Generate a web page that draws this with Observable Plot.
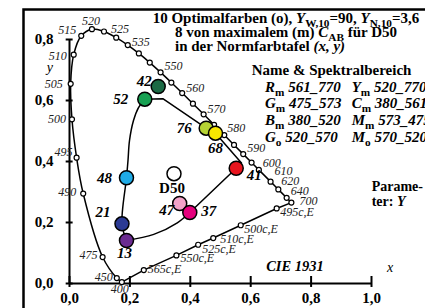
<!DOCTYPE html>
<html><head><meta charset="utf-8">
<script src="https://cdn.jsdelivr.net/npm/d3@7"></script>
<script src="https://cdn.jsdelivr.net/npm/@observablehq/plot@0.6"></script>
<style>
html,body{margin:0;padding:0;background:#fff;}
#chart{width:425px;height:308px;overflow:hidden;}
svg text{white-space:pre;}
</style></head><body><div id="chart"></div>
<script>
// ---- data ----
const xTicks = [0, 0.2, 0.4, 0.6, 0.8, 1.0];
const yTicks = [0, 0.2, 0.4, 0.6, 0.8];

// spectral locus markers (nm, x, y)
const locusNm = [400,450,475,490,495,500,505,510,515,520,525,530,535,540,545,550,555,560,565,570,575,580,585,590,595,600,610,620,640,700];
const locusX = [0.1733,0.1566,0.1096,0.0454,0.0235,0.0082,0.0039,0.0139,0.0389,0.0743,0.1142,0.1547,0.1929,0.2296,0.2658,0.3016,0.3373,0.3731,0.4087,0.4441,0.4788,0.5125,0.5448,0.5752,0.6029,0.6270,0.6658,0.6915,0.7190,0.7347];
const locusY = [0.0048,0.0177,0.0868,0.2950,0.4127,0.5384,0.6548,0.7502,0.8120,0.8338,0.8262,0.8059,0.7816,0.7543,0.7243,0.6923,0.6589,0.6245,0.5896,0.5547,0.5202,0.4866,0.4544,0.4242,0.3965,0.3725,0.3340,0.3083,0.2809,0.2653];
const locusLabeled = [400,450,475,490,495,500,505,510,515,520,525,535,550,560,570,580,590,600,610,620,640,700];

// purple line (complementary wavelengths)
const purpleNames = ["565c,E","550c,E","525c,E","510c,E","500c,E","495c,E"];
const purpleX = [0.246,0.354,0.426,0.476,0.567,0.686];
const purpleY = [0.044,0.092,0.127,0.149,0.191,0.246];

// optimal colours
const optNames = ["42","52","76","68","41","48","21","13","47","37"];
const optX = [0.2937,0.2493,0.4526,0.4834,0.552,0.1887,0.1738,0.1887,0.3649,0.3983];
const optY = [0.6459,0.6043,0.5092,0.4928,0.378,0.3466,0.1957,0.141,0.2623,0.2328];
const optColors = ["#1b6a45","#17a052","#b5d334","#f7e600","#e8151e","#1fabe6","#2b3a94","#6b2c91","#f2a2c8","#e5007d"];

// white point
const whiteName = "D50";
const whiteX = 0.346, whiteY = 0.360;

// boundary of maximal chroma
const hullA = [[0.1887,0.141],[0.1738,0.1957],[0.1887,0.3466],[0.1937,0.4033],[0.1987,0.4689],[0.2119,0.5344],[0.2285,0.577],[0.2493,0.6043]];
const hullB = [[0.2493,0.6043],[0.309,0.606],[0.4526,0.5092],[0.4834,0.4928],[0.5695,0.395],[0.552,0.378],[0.3983,0.2328]];
const hullC = [[0.3983,0.2328],[0.357,0.199],[0.279,0.161],[0.1887,0.141]];

// ---- layout (label offsets in px) ----
const locusOff = {400:[-2,7],450:[-13,-1],475:[-14,-2],490:[-16,-1],495:[-13,-5],500:[-15,0],505:[-17,0],510:[-16,1],515:[-14,-6],520:[-1,-8],525:[16,-2],535:[13,-3],550:[13,-6],560:[13,-5],570:[13,-5],580:[12,-7],590:[13,-6],600:[13,-7],610:[13,-10],620:[12,-8],640:[13,-7],700:[17,-1]};
const purpleOff = [[4,-1],[4,3],[4,4],[7,1],[3.5,4],[3.5,4]];
const optOff = [[-14,-5],[-24,0],[-22,0],[0,15],[18,7],[-22,0],[-19,-12],[-2,13],[-13,7],[19,-1]];

const locus = locusNm.map((nm,i)=>({nm, x:locusX[i], y:locusY[i]}));
const byNm = Object.fromEntries(locus.map(d=>[d.nm,d]));
const locusLab = locusLabeled.map(nm=>({...byNm[nm], dx:locusOff[nm][0], dy:locusOff[nm][1]}));
const purple = purpleNames.map((n,i)=>({n, x:purpleX[i], y:purpleY[i], dx:purpleOff[i][0], dy:purpleOff[i][1]}));
const purpleLine = [byNm[400], ...purple, byNm[700]];
const opt = optNames.map((n,i)=>({n, x:optX[i], y:optY[i], c:optColors[i], dx:optOff[i][0], dy:optOff[i][1]}));
const fmt = d => d.toFixed(1).replace(".", ",");
const serif = '"Liberation Serif","Times New Roman",serif';

const marks = [
  Plot.frame({stroke:"black", strokeWidth:2.5, insetLeft:-46, insetTop:-30, insetRight:-80, insetBottom:-60}),
  Plot.ruleY([0], {x1:0, x2:1, strokeWidth:2}),
  Plot.ruleX([0], {y1:0, y2:0.8, strokeWidth:2}),
  Plot.ruleX(xTicks, {x:d=>d, y1:-0.013, y2:0.023, strokeWidth:2}),
  Plot.ruleY(yTicks, {y:d=>d, x1:-0.011, x2:0.012, strokeWidth:2}),
  Plot.text(xTicks, {x:d=>d, y:0, dy:15, text:fmt, fontSize:15, fontWeight:"bold"}),
  Plot.text(yTicks, {x:0, y:d=>d, dx:-16, textAnchor:"end", text:fmt, fontSize:15, fontWeight:"bold"}),
  Plot.line(locus, {x:"x", y:"y", curve:"catmull-rom", strokeWidth:1.5}),
  Plot.line(purpleLine, {x:"x", y:"y", strokeWidth:1.5}),
  Plot.line(hullA, {x:d=>d[0], y:d=>d[1], curve:"catmull-rom", strokeWidth:1.5}),
  Plot.line(hullB, {x:d=>d[0], y:d=>d[1], strokeWidth:1.5}),
  Plot.line(hullC, {x:d=>d[0], y:d=>d[1], curve:"catmull-rom", strokeWidth:1.5}),
  Plot.dot(locus, {x:"x", y:"y", r:2.5, fill:"white", stroke:"black", strokeWidth:1.2}),
  Plot.dot(purple, {x:"x", y:"y", r:2.5, fill:"white", stroke:"black", strokeWidth:1.2}),
  Plot.dot(opt, {x:"x", y:"y", r:7, fill:"c", stroke:"black", strokeWidth:1.5}),
  Plot.dot([{x:whiteX, y:whiteY}], {x:"x", y:"y", r:7, fill:"white", stroke:"black", strokeWidth:1.5}),
  ...locusLab.map(d=>Plot.text([d], {x:"x", y:"y", text:d=>String(d.nm), dx:d.dx, dy:d.dy, fontSize:12, fontStyle:"italic", fill:"#222"})),
  ...purple.map(d=>Plot.text([d], {x:"x", y:"y", text:"n", dx:d.dx, dy:d.dy, textAnchor:"start", fontSize:12, fontStyle:"italic", fill:"#222"})),
  ...opt.map(d=>Plot.text([d], {x:"x", y:"y", text:"n", dx:d.dx, dy:d.dy, fontSize:15, fontStyle:"italic", fontWeight:"bold"})),
  Plot.text([{x:whiteX, y:whiteY}], {x:"x", y:"y", text:()=>whiteName, dx:-2, dy:14, fontSize:15, fontWeight:"bold"}),
  Plot.text([{x:0.7467, y:0.0567}], {x:"x", y:"y", text:()=>"CIE 1931", fontSize:14.5, fontStyle:"italic", fontWeight:"bold"}),
  Plot.text([{x:1.062, y:0.052}], {x:"x", y:"y", text:()=>"x", fontSize:14, fontStyle:"italic"}),
  Plot.text([{x:-0.065, y:0.709}], {x:"x", y:"y", text:()=>"y", fontSize:14, fontStyle:"italic"})
];

const plot = Plot.plot({
  width:425, height:308,
  marginLeft:69, marginRight:54, marginTop:39, marginBottom:25,
  x:{domain:[0,1], axis:null},
  y:{domain:[0,0.8], axis:null},
  color:{type:"identity"},
  style:{fontFamily:serif, background:"white", overflow:"visible"},
  marks
});
document.getElementById("chart").append(plot);

// rich text (subscripts) annotations
const svg = d3.select(plot);
const g = svg.append("g").attr("font-family", serif).attr("fill","black");
function rich(x, y, parts, size, weight="bold", anchor="start") {
  const t = g.append("text").attr("x", x).attr("y", y).attr("font-size", size)
    .attr("font-weight", weight).attr("text-anchor", anchor);
  let shift = 0;
  for (const p of parts) {
    const s = t.append("tspan").text(p.t);
    const target = p.sub ? Math.round(size*0.28) : 0;
    if (target !== shift) { s.attr("dy", target - shift); shift = target; }
    if (p.sub) s.attr("font-size", size*0.75);
    if (p.i) s.attr("font-style","italic");
  }
}
rich(152.7, 23, [{t:"10 Optimalfarben (o), "},{t:"Y",i:1},{t:"W,10",sub:1},{t:"=90, "},{t:"Y",i:1},{t:"N,10",sub:1},{t:"=3,6"}], 15);
rich(175, 37, [{t:"8 von maximalem (m) "},{t:"C",i:1},{t:"AB",sub:1},{t:" für D50"}], 15);
rich(175, 51, [{t:"in der Normfarbtafel "},{t:"(x, y)",i:1}], 15);
rich(251.7, 75, [{t:"Name & Spektralbereich"}], 15);
const legRows = [["R","561_770","Y","520_770","m"],["G","475_573","C","380_561","m"],["B","380_520","M","573_475","m"],["G","520_570","M","570_520","o"]];
const legY = [91.7, 108.3, 125, 141.7];
legRows.forEach((r,i)=>{
  rich(265, legY[i], [{t:r[0],i:1},{t:r[4],sub:1},{t:" "+r[1],i:1}], 15);
  rich(351.7, legY[i], [{t:r[2],i:1},{t:r[4],sub:1},{t:" "+r[3],i:1}], 15);
});
rich(371.7, 191, [{t:"Parame-"}], 14);
rich(371.7, 206, [{t:"ter: "},{t:"Y",i:1}], 14);
</script></body></html>
